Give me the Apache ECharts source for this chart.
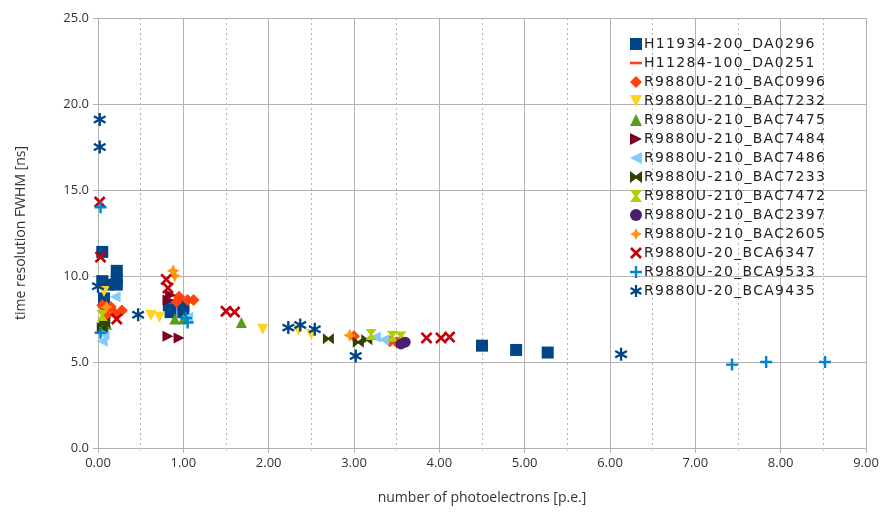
<!DOCTYPE html>
<html>
<head>
<meta charset="utf-8">
<script src="https://cdn.jsdelivr.net/npm/echarts@6/dist/echarts.min.js"></script>
<style>html,body{margin:0;padding:0;background:#fff}#c{width:888px;height:519px}</style>
</head>
<body>
<div id="c"></div>
<script>
var seriesNames = ["H11934-200_DA0296","H11284-100_DA0251","R9880U-210_BAC0996","R9880U-210_BAC7232","R9880U-210_BAC7475","R9880U-210_BAC7484","R9880U-210_BAC7486","R9880U-210_BAC7233","R9880U-210_BAC7472","R9880U-210_BAC2397","R9880U-210_BAC2605","R9880U-20_BCA6347","R9880U-20_BCA9533","R9880U-20_BCA9435"];
var xTicks = [0,1,2,3,4,5,6,7,8,9];
var yTicks = [0,5,10,15,20,25];

var dH11934 = [[0.05,11.4],[0.22,10.3],[0.22,9.8],[0.22,9.5],[0.05,9.7],[0.12,9.5],[0.07,8.7],[0.83,8.3],[1.0,8.3],[0.85,7.9],[1.0,7.9],[4.5,5.95],[4.9,5.7],[5.27,5.55]];
var dH11284 = [[0.1,8.1],[0.9,8.4],[3.4,6.3]];
var dBAC0996 = [[0.08,8.0],[0.15,8.2],[0.2,7.8],[0.28,8.0],[0.1,7.7],[0.05,8.3],[0.95,8.8],[1.05,8.6],[1.12,8.6],[0.92,8.5],[3.0,6.5],[3.42,6.2],[3.5,6.15],[3.55,6.25]];
var dBAC7232 = [[0.07,9.1],[0.62,7.7],[0.72,7.6],[1.93,6.9],[2.35,6.85],[2.5,6.6]];
var dBAC7475 = [[0.05,7.4],[0.1,7.2],[0.05,7.1],[0.9,7.5],[1.0,7.5],[1.68,7.3]];
var dBAC7484 = [[0.82,6.5],[0.95,6.4],[0.85,8.9],[0.82,8.6]];
var dBAC7486 = [[0.05,6.2],[0.07,6.6],[0.2,8.8],[1.05,7.6],[3.25,6.45],[3.35,6.3]];
var dBAC7233 = [[0.05,7.0],[0.08,7.3],[2.7,6.35],[3.05,6.15],[3.15,6.3]];
var dBAC7472 = [[0.05,7.7],[3.2,6.6],[3.45,6.5],[3.55,6.45]];
var dBAC2397 = [[3.6,6.15],[3.55,6.05]];
var dBAC2605 = [[0.88,10.3],[0.9,10.0],[2.95,6.55],[0.1,8.2]];
var dBCA6347 = [[0.02,14.3],[0.03,11.1],[0.8,9.8],[0.82,9.3],[0.22,7.5],[1.5,7.95],[1.6,7.9],[3.85,6.4],[4.02,6.4],[4.12,6.45]];
var dBCA9533 = [[0.03,14.0],[0.03,6.7],[1.03,7.55],[1.05,7.3],[7.43,4.85],[7.83,5.0],[8.52,5.0]];
var dBCA9435 = [[0.02,19.1],[0.02,17.5],[0.0,9.4],[0.47,7.75],[2.23,7.0],[2.37,7.15],[2.54,6.9],[3.02,5.35],[6.13,5.45]];

var allData = [dH11934,dH11284,dBAC0996,dBAC7232,dBAC7475,dBAC7484,dBAC7486,dBAC7233,dBAC7472,dBAC2397,dBAC2605,dBCA6347,dBCA9533,dBCA9435];

var colors = ["#004586","#ff420e","#ff420e","#ffd320","#579d1c","#7e0021","#83caff","#314004","#aecf00","#4b1f6f","#ff950e","#c5000b","#0084d1","#004586"];
var asterisk = 'path://M4.1,0H5.9V10H4.1Z M0.05,3.3L0.95,1.75L9.95,6.7L9.05,8.25Z M0.05,6.7L9.05,1.75L9.95,3.3L0.95,8.25Z';
var symbols = [
  'rect',
  'path://M0,0H10V2.2H0Z',
  'diamond',
  'path://M0,0L10,0L5,10Z',
  'path://M5,0L10,10L0,10Z',
  'path://M0,0L10,5L0,10Z',
  'path://M10,0L0,5L10,10Z',
  'path://M0,0L5,3.8L10,0V10L5,6.2L0,10Z',
  'path://M0,0H10L6.2,5L10,10H0L3.8,5Z',
  'circle',
  'path://M5,0L6.6,3.4L10,5L6.6,6.6L5,10L3.4,6.6L0,5L3.4,3.4Z',
  'path://M0,1.6L1.6,0L5,3.4L8.4,0L10,1.6L6.6,5L10,8.4L8.4,10L5,6.6L1.6,10L0,8.4L3.4,5Z',
  'path://M4,0H6V4H10V6H6V10H4V6H0V4H4Z',
  asterisk
];
var sizes = [12,[12,3],12,11,11,11,11,11,11,11,13,12,12,13];

// widen the legend labels' tracking like the reference rendering
(function(){
  var names = {};
  seriesNames.forEach(function(n){ names[n] = true; });
  var proto = CanvasRenderingContext2D.prototype;
  var orig = proto.fillText;
  proto.fillText = function(t, x, y, m){
    if (names[t] && 'letterSpacing' in this) {
      var ls = this.letterSpacing;
      this.letterSpacing = '1.3px';
      if (m === undefined) orig.call(this, t, x, y); else orig.call(this, t, x, y, m);
      this.letterSpacing = ls;
    } else {
      if (m === undefined) orig.call(this, t, x, y); else orig.call(this, t, x, y, m);
    }
  };
})();

var series = seriesNames.map(function(n,i){
  return {
    name: n, type: 'scatter', data: allData[i],
    symbol: symbols[i], symbolSize: sizes[i], symbolKeepAspect: true,
    itemStyle: {color: colors[i], opacity: 1},
    emphasis: {disabled: true}
  };
});

var chart = echarts.init(document.getElementById('c'), null, {renderer:'canvas'});
var font = 'Open Sans';
chart.setOption({
  animation: false,
  backgroundColor: '#fff',
  textStyle: {fontFamily: font},
  grid: {left: 98, right: 22, top: 18, bottom: 71, containLabel: false},
  legend: {
    orient: 'vertical', left: 625, top: 32,
    itemWidth: 12, itemHeight: 12, itemGap: 5,
    textStyle: {fontFamily: 'DejaVu Sans', fontSize: 14, lineHeight: 14, color: '#222', padding: [0,0,0,-3]},
    data: seriesNames
  },
  xAxis: {
    type: 'value', min: 0, max: 9, interval: 1,
    name: 'number of photoelectrons [p.e.]', nameLocation: 'middle', nameGap: 43,
    nameTextStyle: {fontFamily: font, fontSize: 14, color: '#333'},
    axisLine: {show: true, lineStyle: {color: '#b3b3b3'}},
    axisTick: {show: true, length: 5, lineStyle: {color: '#b3b3b3'}},
    minorTick: {show: true, splitNumber: 2, length: 3, lineStyle: {color: '#cccccc'}},
    axisLabel: {fontFamily: font, fontSize: 13, color: '#333', margin: 9, formatter: function(v){return v.toFixed(2);}},
    splitLine: {show: true, lineStyle: {color: '#b3b3b3', width: 1}},
    minorSplitLine: {show: true, lineStyle: {color: '#b3b3b3', type: [2,3], width: 1}}
  },
  yAxis: {
    type: 'value', min: 0, max: 25, interval: 5,
    name: 'time resolution FWHM [ns]', nameLocation: 'middle', nameGap: 70,
    nameTextStyle: {fontFamily: font, fontSize: 14, color: '#333'},
    axisLine: {show: true, lineStyle: {color: '#b3b3b3'}},
    axisTick: {show: true, length: 5, lineStyle: {color: '#b3b3b3'}},
    axisLabel: {fontFamily: font, fontSize: 13, color: '#333', margin: 9, formatter: function(v){return v.toFixed(1);}},
    splitLine: {show: true, lineStyle: {color: '#b3b3b3', width: 1}}
  },
  series: series
});
</script>
</body>
</html>
